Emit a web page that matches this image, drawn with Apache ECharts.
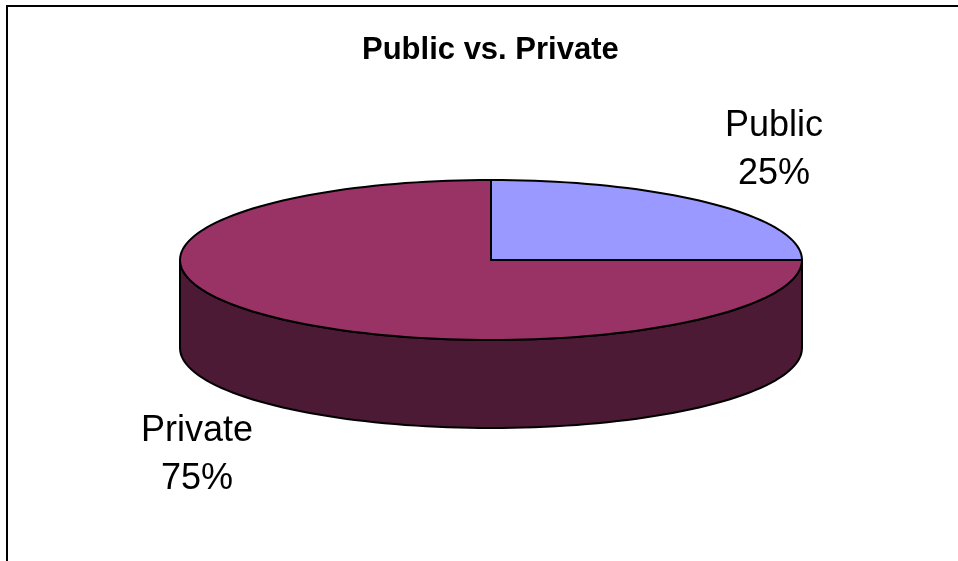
<!DOCTYPE html>
<html>
<head>
<meta charset="utf-8">
<script src="https://cdn.jsdelivr.net/npm/echarts@6/dist/echarts.min.js"></script>
<style>
html,body{margin:0;padding:0;background:#fff;}
#c{width:958px;height:561px;}
</style>
</head>
<body>
<div id="c"></div>
<script>
var titleText = 'Public vs. Private';
var categories = ['Public', 'Private'];
var values = [25, 75];
var topColors = ['#9999FF', '#993366'];
var sideColors = ['#4D4D80', '#4C1A34'];

var total = values.reduce(function (a, b) { return a + b; }, 0);
var angles = [];
(function () {
  var cum = 0;
  for (var i = 0; i < values.length; i++) {
    var a0 = 90 - cum / total * 360;
    cum += values[i];
    var a1 = 90 - cum / total * 360;
    angles.push([a0, a1]);
  }
})();
var DEPTH = 1.1;
var RAD = Math.PI / 180;

function arcPts(api, from, to, dy) {
  var pts = [];
  var n = Math.max(2, Math.ceil(Math.abs(to - from) / 2));
  for (var k = 0; k <= n; k++) {
    var t = (from + (to - from) * k / n) * RAD;
    pts.push(api.coord([Math.cos(t), Math.sin(t) - dy]));
  }
  return pts;
}

function renderTop(params, api) {
  var i = params.dataIndex;
  var a = angles[i];
  var pts = [api.coord([0, 0])].concat(arcPts(api, a[0], a[1], 0));
  return {
    type: 'polygon',
    shape: { points: pts },
    style: { fill: topColors[i], stroke: '#000', lineWidth: 2, lineJoin: 'round' }
  };
}

function renderSide(params, api) {
  var i = params.dataIndex;
  var a = angles[i];
  var hi = a[0], lo = a[1];
  var children = [];
  for (var k = -2; k <= 1; k++) {
    var fLo = -180 + k * 360, fHi = 0 + k * 360;
    var s = Math.max(lo, fLo), e = Math.min(hi, fHi);
    if (e - s > 0.01) {
      var upper = arcPts(api, e, s, 0);
      var lower = arcPts(api, s, e, DEPTH);
      children.push({
        type: 'polygon',
        shape: { points: upper.concat(lower) },
        style: { fill: sideColors[i], stroke: '#000', lineWidth: 2, lineJoin: 'round' }
      });
    }
  }
  return { type: 'group', children: children };
}

var seriesData = values.map(function (v, i) { return { name: categories[i], value: [v, i] }; });

var labelPos = [[774, 150], [197, 455]];
var graphics = [{
  type: 'rect',
  shape: { x: 7, y: 6, width: 1000, height: 700 },
  style: { fill: 'none', stroke: '#000', lineWidth: 2 },
  silent: true
}];
categories.forEach(function (c, i) {
  graphics.push({
    type: 'text',
    x: labelPos[i][0], y: labelPos[i][1],
    style: {
      text: c + '\n' + Math.round(values[i] / total * 100) + '%',
      font: '36px "Liberation Sans", Arial, sans-serif',
      fill: '#000',
      align: 'center',
      verticalAlign: 'middle',
      lineHeight: 48
    }
  });
});

var chart = echarts.init(document.getElementById('c'), null, { renderer: 'canvas' });
chart.setOption({
  backgroundColor: '#fff',
  animation: false,
  title: {
    text: titleText,
    left: 362,
    top: 35,
    padding: 0,
    textStyle: { fontFamily: '"Liberation Sans", Arial, sans-serif', fontSize: 31, fontWeight: 'bold', color: '#000' }
  },
  grid: { left: 180, top: 180, width: 622, height: 160 },
  xAxis: { type: 'value', min: -1, max: 1, show: false },
  yAxis: { type: 'value', min: -1, max: 1, show: false },
  graphic: graphics,
  series: [
    { type: 'custom', name: 'side', coordinateSystem: 'cartesian2d', renderItem: renderSide, data: seriesData, clip: false, silent: true },
    { type: 'custom', name: 'top', coordinateSystem: 'cartesian2d', renderItem: renderTop, data: seriesData, clip: false, silent: true }
  ]
});
</script>
</body>
</html>
